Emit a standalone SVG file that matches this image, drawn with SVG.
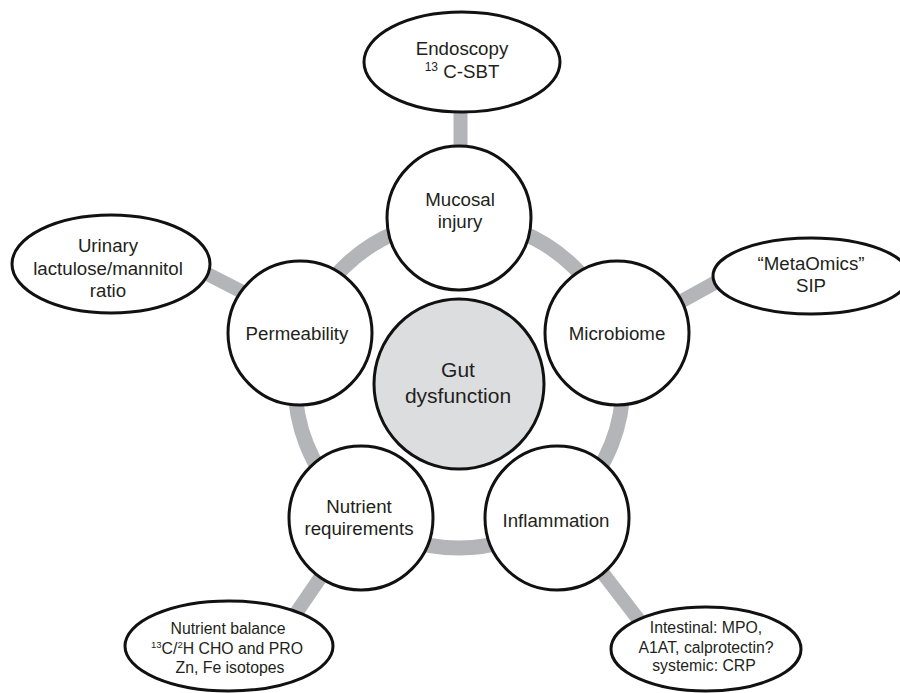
<svg xmlns="http://www.w3.org/2000/svg" width="900" height="693" viewBox="0 0 900 693">
<style>
.bg{fill:#ffffff}
.ring{fill:none;stroke:#b4b5b8;stroke-width:15}
.spoke{stroke:#b4b5b8;stroke-width:14;stroke-linecap:butt}
.node{fill:#ffffff;stroke:#111111;stroke-width:3}
.core{fill:#dcdddf;stroke:#111111;stroke-width:3}
.t{font-family:"Liberation Sans",Arial,sans-serif;font-size:18.7px;fill:#231f20;text-anchor:middle}
.tc{font-family:"Liberation Sans",Arial,sans-serif;font-size:21px;fill:#231f20;text-anchor:middle}
.ts{font-family:"Liberation Sans",Arial,sans-serif;font-size:15.8px;fill:#231f20;text-anchor:middle}
</style>
<rect class="bg" x="0" y="0" width="900" height="693"/>
<g id="connectors">
  <circle class="ring" cx="459" cy="384" r="164"/>
  <line class="spoke" x1="460.5" y1="60" x2="460.5" y2="218"/>
  <line class="spoke" x1="180" y1="260" x2="262" y2="302"/>
  <line class="spoke" x1="660" y1="313" x2="740" y2="269"/>
  <line class="spoke" x1="558" y1="515" x2="645" y2="628"/>
  <line class="spoke" x1="361" y1="518" x2="290" y2="622"/>
</g>
<g id="gut-dysfunction">
  <circle class="core" cx="459" cy="384" r="85"/>
  <text class="tc" x="458" y="377">Gut</text>
  <text class="tc" x="458" y="403">dysfunction</text>
</g>
<g id="mucosal-injury">
  <circle class="node" cx="459" cy="218" r="72"/>
  <text class="t" x="460" y="206">Mucosal</text>
  <text class="t" x="460" y="228">injury</text>
</g>
<g id="microbiome">
  <circle class="node" cx="617" cy="333" r="72"/>
  <text class="t" x="617" y="340">Microbiome</text>
</g>
<g id="inflammation">
  <circle class="node" cx="557" cy="518" r="72"/>
  <text class="t" x="556" y="527">Inflammation</text>
</g>
<g id="nutrient-requirements">
  <circle class="node" cx="361" cy="518" r="72"/>
  <text class="t" x="359" y="513">Nutrient</text>
  <text class="t" x="359" y="535">requirements</text>
</g>
<g id="permeability">
  <circle class="node" cx="300" cy="333" r="72"/>
  <text class="t" x="297" y="340">Permeability</text>
</g>
<g id="endoscopy">
  <ellipse class="node" cx="462" cy="62" rx="98" ry="50"/>
  <text class="t" x="462" y="55">Endoscopy</text>
  <text class="t" x="462" y="78"><tspan font-size="12" dy="-7">13</tspan><tspan dy="7"> C-SBT</tspan></text>
</g>
<g id="urinary">
  <ellipse class="node" cx="111" cy="264" rx="99" ry="49"/>
  <text class="t" x="108" y="252">Urinary</text>
  <text class="t" x="108" y="275">lactulose/mannitol</text>
  <text class="t" x="108" y="297">ratio</text>
</g>
<g id="metaomics">
  <ellipse class="node" cx="811" cy="276" rx="98" ry="38"/>
  <text class="t" x="811" y="270">“MetaOmics”</text>
  <text class="t" x="811" y="292">SIP</text>
</g>
<g id="nutrient-balance">
  <ellipse class="node" cx="229" cy="646" rx="104" ry="45"/>
  <text class="ts" x="228" y="634">Nutrient balance</text>
  <text class="ts" x="227" y="654"><tspan font-size="9.5" dy="-6">13</tspan><tspan dy="6">C/</tspan><tspan font-size="9.5" dy="-6">2</tspan><tspan dy="6">H CHO and PRO</tspan></text>
  <text class="ts" x="230" y="673">Zn, Fe isotopes</text>
</g>
<g id="inflammation-markers">
  <ellipse class="node" cx="706" cy="649" rx="95" ry="42"/>
  <text class="ts" x="706" y="633">Intestinal: MPO,</text>
  <text class="ts" x="706" y="653">A1AT, calprotectin?</text>
  <text class="ts" x="704" y="671">systemic: CRP</text>
</g>
</svg>
